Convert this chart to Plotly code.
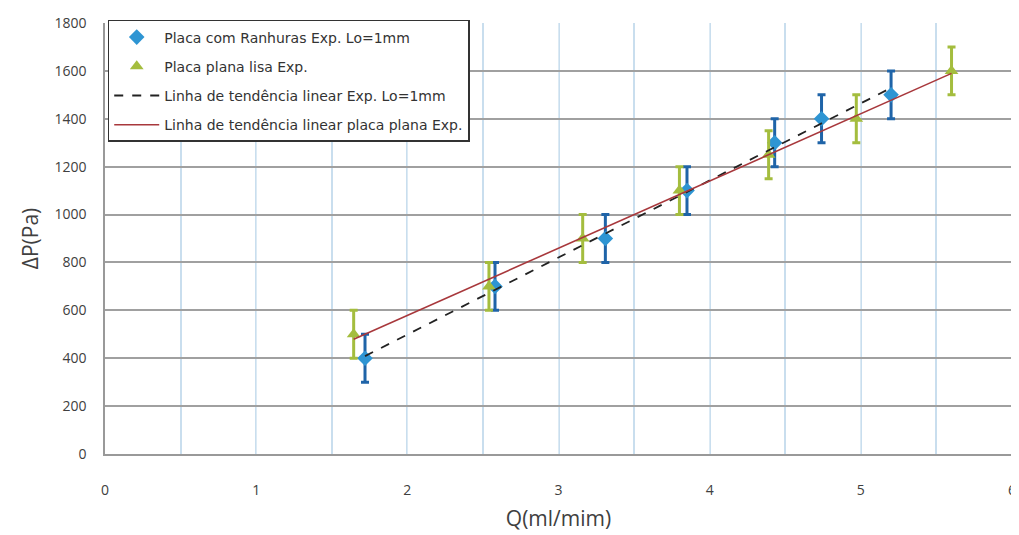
import numpy as np
import plotly.graph_objects as go

# Data
q_ranhuras = [1.72, 2.58, 3.31, 3.85, 4.43, 4.74, 5.20]
dp_ranhuras = [400, 700, 900, 1100, 1300, 1400, 1500]
err_ranhuras = [100, 100, 100, 100, 100, 100, 100]

q_plana = [1.645, 2.54, 3.16, 3.80, 4.39, 4.97, 5.60]
dp_plana = [500, 700, 900, 1100, 1250, 1400, 1600]
err_plana = [100, 100, 100, 100, 100, 100, 100]

x_ticks = [0, 1, 2, 3, 4, 5, 6]
y_ticks = [0, 200, 400, 600, 800, 1000, 1200, 1400, 1600, 1800]

name_r = "Placa com Ranhuras Exp. Lo=1mm"
name_p = "Placa plana lisa Exp."
name_tr = "Linha de tendência linear Exp. Lo=1mm"
name_tp = "Linha de tendência linear placa plana Exp."

# Linear trend lines (least squares fit of each series)
cr = np.polyfit(q_ranhuras, dp_ranhuras, 1)
cp = np.polyfit(q_plana, dp_plana, 1)
xr = [min(q_ranhuras), max(q_ranhuras)]
xp = [min(q_plana), max(q_plana)]

fig = go.Figure()

fig.add_trace(go.Scatter(
    x=q_ranhuras, y=dp_ranhuras, mode="markers", name=name_r, legendgroup="a",
    marker=dict(symbol="diamond", size=12, color="#2E95D3"),
    error_y=dict(type="data", array=err_ranhuras, color="#1F64A8", thickness=3, width=4),
))
fig.add_trace(go.Scatter(
    x=q_plana, y=dp_plana, mode="markers", name=name_p, legendgroup="b",
    marker=dict(symbol="triangle-up", size=12, color="#A4BD3E"),
    error_y=dict(type="data", array=err_plana, color="#A4BD3E", thickness=3, width=4),
))
fig.add_trace(go.Scatter(
    x=xr, y=list(np.polyval(cr, xr)), mode="lines", name=name_tr, legendgroup="c",
    line=dict(color="#222222", width=1.8, dash="dash"),
))
fig.add_trace(go.Scatter(
    x=xp, y=list(np.polyval(cp, xp)), mode="lines", name=name_tp, legendgroup="d",
    line=dict(color="#A8383C", width=1.6),
))

font_family = "Open Sans, Liberation Sans, sans-serif"

fig.update_layout(
    width=1011, height=527,
    margin=dict(l=97, r=7, t=15, b=81),
    paper_bgcolor="white", plot_bgcolor="white",
    font=dict(family=font_family, color="#404040"),
    showlegend=True,
    legend=dict(
        x=0.003, y=1.007, xanchor="left", yanchor="top",
        bgcolor="white", bordercolor="#333333", borderwidth=1.5,
        font=dict(size=14, color="#333333", family="DejaVu Sans, sans-serif"),
        itemwidth=45, tracegroupgap=8,
    ),
    xaxis=dict(
        range=[0, 6], tickvals=x_ticks, ticktext=[str(v) for v in x_ticks],
        showgrid=True, gridcolor="#DCEAF4", gridwidth=1,
        minor=dict(dtick=0.5, showgrid=True, gridcolor="#C9DEEE", gridwidth=2),
        zeroline=False, showline=True, linecolor="#999999", linewidth=2,
        ticks="", ticklabelstandoff=22, automargin=False, ticklabeloverflow="allow",
        tickfont=dict(size=14, color="#404040"),
        title=dict(text="Q(ml/mim)", font=dict(size=21, color="#404040"), standoff=14),
    ),
    yaxis=dict(
        range=[0, 1800], tickvals=y_ticks, ticktext=[str(v) for v in y_ticks],
        showgrid=True, gridcolor="#A0A0A0", gridwidth=2,
        zeroline=False, showline=True, linecolor="#999999", linewidth=1.5,
        ticks="", ticklabelstandoff=14, automargin=False,
        tickfont=dict(size=14, color="#404040"),
        title=dict(text="ΔP(Pa)", font=dict(size=21, color="#404040"), standoff=10),
    ),
)

fig.write_html("out.html")
